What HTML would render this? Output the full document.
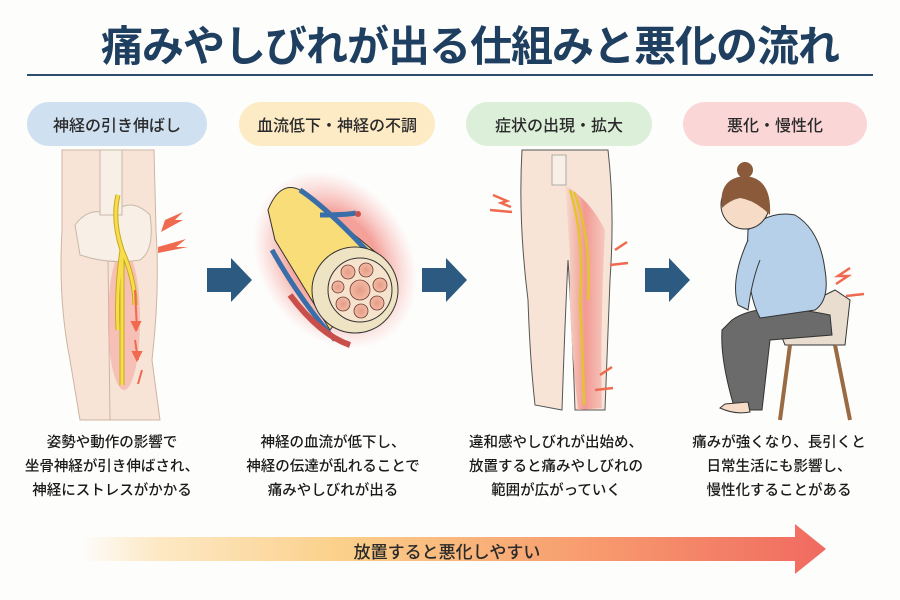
<!DOCTYPE html>
<html><head><meta charset="utf-8"><style>
html,body{margin:0;padding:0;background:#fdfdfc;}
body{width:900px;height:600px;overflow:hidden;position:relative;font-family:"Liberation Sans","Noto Sans CJK JP",sans-serif;}
.t{position:absolute;white-space:nowrap;}
.d{font-size:14.5px;line-height:24px;color:#1a1a1a;font-weight:500;text-align:center;width:220px;top:431px;}
.p{font-size:16px;color:#2a2a2a;text-align:center;top:112px;font-weight:500;}
</style></head><body>
<svg width="900" height="600" style="position:absolute;left:0;top:0">
<defs>
<radialGradient id="glow"><stop offset="0.55" stop-color="#f28a82" stop-opacity="0.8"/><stop offset="1" stop-color="#f7b0aa" stop-opacity="0"/></radialGradient>
<linearGradient id="leg" x1="0" x2="1"><stop offset="0" stop-color="#f5ddd0"/><stop offset="0.5" stop-color="#f29a92"/><stop offset="1" stop-color="#f5c9c0"/></linearGradient>
<linearGradient id="bar" x1="0" x2="1"><stop offset="0" stop-color="#fdfdfc"/><stop offset="0.1" stop-color="#fde9c6"/><stop offset="0.35" stop-color="#fbd08a"/><stop offset="0.65" stop-color="#f8a070"/><stop offset="1" stop-color="#f06a60"/></linearGradient>
<radialGradient id="fasc"><stop offset="0" stop-color="#e49c86"/><stop offset="1" stop-color="#f3b9a4"/></radialGradient>
</defs>
<line x1="27" y1="75" x2="873" y2="75" stroke="#2e4d6e" stroke-width="2"/>
<rect x="27" y="102" width="180" height="44" rx="22" fill="#cfe0f1"/>
<rect x="239" y="102" width="196" height="44" rx="22" fill="#fdebc6"/>
<rect x="466" y="102" width="186" height="44" rx="22" fill="#dcefd9"/>
<rect x="683" y="102" width="184" height="44" rx="22" fill="#fbd6d6"/>
<!-- panel1 legs -->
<path d="M62 150 L62 230 Q58 300 70 360 L80 420 L160 420 L152 360 Q160 290 156 230 L154 150 Z" fill="#f7e4d6" stroke="#cdb5a3"/>
<line x1="108" y1="260" x2="110" y2="420" stroke="#cdb5a3"/>
<ellipse cx="124" cy="320" rx="16" ry="70" fill="#f5a9a0" opacity="0.6"/>
<path d="M75 225 Q90 205 110 215 Q130 195 150 215 Q155 250 140 260 Q110 265 80 255 Z" fill="#f8efe6" stroke="#c9b8a8"/>
<rect x="100" y="150" width="22" height="65" fill="#f8efe6" stroke="#c9b8a8"/>
<path d="M118 195 Q112 220 122 250 L122 385 M122 250 Q116 290 118 330 M122 250 Q135 280 135 305" stroke="#c9a820" stroke-width="5" fill="none"/>
<path d="M118 195 Q112 220 122 250 L122 385 M122 250 Q116 290 118 330 M122 250 Q135 280 135 305" stroke="#f6de4a" stroke-width="3" fill="none"/>
<path d="M165 220 l18 -8 -8 8 8 0 -22 12 z M158 247 l28 -8 -10 8 12 0 -30 6z" fill="#ef6a4e"/>
<path d="M135 290 l2 40 M136 330 l-4 -8 8 0z M135 340 l3 20 M137 360 l-4 -8 8 0z M142 370 l-4 14" stroke="#ef6a4e" stroke-width="2" fill="#ef6a4e"/>
<!-- arrows -->
<path d="M207 268 h24 v-10 l21 22 -21 22 v-10 h-24z" fill="#2c5a80"/>
<path d="M422 268 h24 v-10 l21 22 -21 22 v-10 h-24z" fill="#2c5a80"/>
<path d="M645 268 h24 v-10 l21 22 -21 22 v-10 h-24z" fill="#2c5a80"/>
<!-- panel2 -->
<ellipse cx="335" cy="260" rx="75" ry="95" fill="url(#glow)" transform="rotate(-35 335 260)"/>
<path d="M268 210 Q280 180 300 190 L385 260 L330 330 L275 240 Z" fill="#f8dd78" stroke="#333"/>
<path d="M300 190 Q330 210 380 265 M272 250 Q300 300 335 340" stroke="#3a6ea8" stroke-width="5" fill="none"/>
<path d="M320 215 Q345 215 356 213" stroke="#3a6ea8" stroke-width="5" fill="none"/><circle cx="358" cy="214" r="3" fill="#c9504a"/>
<path d="M290 295 Q320 335 350 345" stroke="#c9504a" stroke-width="6" fill="none"/>
<circle cx="355" cy="290" r="43" fill="#eee3c2" stroke="#333"/>
<circle cx="360" cy="290" r="32" fill="#f6e3cd" stroke="#333"/>
<g fill="url(#fasc)" stroke="#6b3b30" stroke-width="0.8">
<circle cx="360" cy="290" r="10"/><circle cx="348" cy="272" r="7"/><circle cx="366" cy="270" r="7"/><circle cx="380" cy="285" r="7"/><circle cx="377" cy="303" r="7"/><circle cx="361" cy="311" r="7"/><circle cx="343" cy="304" r="7"/><circle cx="338" cy="287" r="6"/>
</g>
<!-- panel3 -->
<path d="M522 150 Q518 220 528 300 Q530 360 535 405 L562 410 Q565 320 568 260 Q572 320 575 410 L605 410 Q608 330 610 280 Q615 210 608 150 Z" fill="#f7e4d6" stroke="#555"/>
<path d="M565 185 Q590 200 605 230 Q600 330 602 408 L578 410 Q568 320 570 260 Q568 220 565 185Z" fill="url(#leg)"/>
<path d="M570 190 Q585 240 580 300 Q583 360 584 405 M574 192 Q592 240 588 300" stroke="#e3c430" stroke-width="2.5" fill="none"/>
<path d="M552 155 h14 v30 h-14z" fill="#f8efe6" stroke="#999" stroke-width="0.8"/>
<path d="M493 195 l14 6 -6 2 10 4 M490 210 l22 2" stroke="#ef6a4e" stroke-width="2.5" fill="none"/>
<path d="M615 250 l12 -8 M610 265 l18 -2 M600 375 l12 -8 M595 390 l18 -2" stroke="#ef6a4e" stroke-width="2.5" fill="none"/>
<!-- panel4 -->
<path d="M775 320 L835 290 L850 300 L845 345 L785 345 Z" fill="#e9ddd0" stroke="#333"/>
<line x1="790" y1="345" x2="780" y2="420" stroke="#9a6b43" stroke-width="4"/>
<line x1="835" y1="345" x2="850" y2="420" stroke="#9a6b43" stroke-width="4"/>
<path d="M732 320 Q760 300 830 315 L832 335 L770 340 L762 410 L735 410 Q720 360 722 330 Z" fill="#6b6b6b" stroke="#333"/>
<path d="M748 230 Q770 210 795 215 Q820 230 825 270 Q830 300 815 310 L760 318 Q745 290 748 230 Z" fill="#b7d0ea" stroke="#333"/>
<path d="M748 240 Q730 280 738 305 L748 310 Q752 280 760 260" fill="#b7d0ea" stroke="#333"/>
<circle cx="745" cy="205" r="24" fill="#f6dcc6" stroke="#333"/>
<path d="M722 208 Q718 178 745 176 Q772 178 770 215 Q755 200 740 198 Q730 200 722 208Z" fill="#8a5a3a"/>
<circle cx="745" cy="170" r="8" fill="#8a5a3a"/>
<path d="M720 408 Q735 415 750 412 L748 402 L725 404Z" fill="#f6dcc6" stroke="#333"/>
<path d="M850 268 l-12 8 10 0 -12 8 M846 296 l18 -2" stroke="#ef6a4e" stroke-width="2.5" fill="none"/>
<!-- bottom arrow -->
<path d="M80 537 H795 V524 L826 549 795 574 V561 H80Z" fill="url(#bar)"/>
</svg>
<div class="t" style="left:90px;width:760px;text-align:center;top:13px;font-size:42px;font-weight:bold;color:#1f3f60;letter-spacing:-1px;">痛みやしびれが出る仕組みと悪化の流れ</div>
<div class="t p" style="left:27px;width:180px;">神経の引き伸ばし</div>
<div class="t p" style="left:239px;width:196px;">血流低下・神経の不調</div>
<div class="t p" style="left:466px;width:186px;">症状の出現・拡大</div>
<div class="t p" style="left:683px;width:184px;">悪化・慢性化</div>
<div class="t d" style="left:2px;">姿勢や動作の影響で<br>坐骨神経が引き伸ばされ、<br>神経にストレスがかかる</div>
<div class="t d" style="left:223px;">神経の血流が低下し、<br>神経の伝達が乱れることで<br>痛みやしびれが出る</div>
<div class="t d" style="left:446px;">違和感やしびれが出始め、<br>放置すると痛みやしびれの<br>範囲が広がっていく</div>
<div class="t d" style="left:669px;">痛みが強くなり、長引くと<br>日常生活にも影響し、<br>慢性化することがある</div>
<div class="t" style="left:300px;width:294px;text-align:center;top:538px;font-size:17px;color:#2a2a2a;font-weight:500;">放置すると悪化しやすい</div>
</body></html>
